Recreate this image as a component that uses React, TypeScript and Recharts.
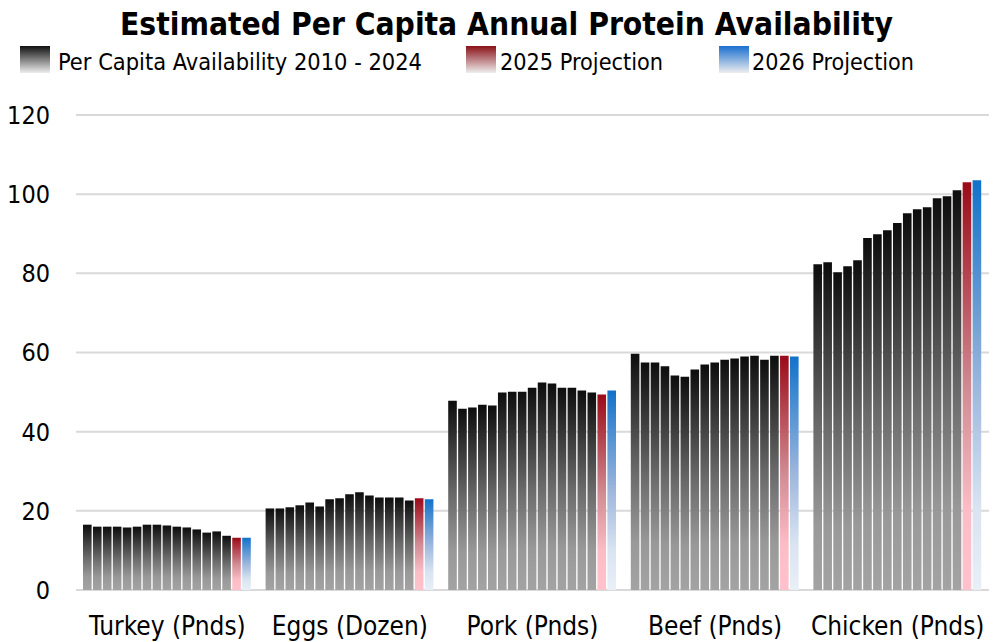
import { BarChart, Bar, XAxis, YAxis, CartesianGrid } from "recharts";

const FONT = "'DejaVu Sans Condensed', 'Liberation Sans', sans-serif";

const categories = ["Turkey (Pnds)", "Eggs (Dozen)", "Pork (Pnds)", "Beef (Pnds)", "Chicken (Pnds)"];
const years = [2010, 2011, 2012, 2013, 2014, 2015, 2016, 2017, 2018, 2019, 2020, 2021, 2022, 2023, 2024, 2025, 2026];

const turkey = [16.5, 16.0, 16.0, 16.0, 15.8, 16.0, 16.5, 16.5, 16.3, 16.0, 15.8, 15.3, 14.5, 14.8, 13.7, 13.2, 13.2];
const eggs = [20.6, 20.6, 20.9, 21.4, 22.1, 21.1, 22.9, 23.2, 24.2, 24.7, 23.9, 23.4, 23.4, 23.4, 22.6, 23.2, 22.9];
const pork = [47.8, 45.8, 46.1, 46.8, 46.6, 49.9, 50.1, 50.1, 51.1, 52.4, 52.2, 51.1, 51.1, 50.4, 49.9, 49.4, 50.4];
const beef = [59.7, 57.5, 57.5, 56.5, 54.2, 53.9, 55.7, 57.0, 57.5, 58.2, 58.5, 59.0, 59.2, 58.2, 59.2, 59.2, 59.0];
const chicken = [82.3, 82.8, 80.3, 81.8, 83.3, 88.9, 89.9, 90.9, 92.7, 95.2, 96.2, 96.7, 99.0, 99.5, 101.0, 103.0, 103.5];

const yTicks = [0, 20, 40, 60, 80, 100, 120];

const seriesByCategory = [turkey, eggs, pork, beef, chicken];

const data = categories.map((name, c) => {
  const row: Record<string, string | number> = { name };
  years.forEach((y, i) => {
    row[`y${y}`] = seriesByCategory[c][i];
  });
  return row;
});

// 2010-2024 grey, 2025 red, 2026 blue
const fillFor = (i: number) =>
  i < 15 ? "url(#gGray)" : i === 15 ? "url(#gRed)" : "url(#gBlue)";

const legendItems = [
  { label: "Per Capita Availability 2010 - 2024", grad: "lGray", sx: 20, tx: 58, tw: 364 },
  { label: "2025 Projection", grad: "lRed", sx: 466, tx: 500, tw: 163 },
  { label: "2026 Projection", grad: "lBlue", sx: 719, tx: 752, tw: 162 },
];

export default function App() {
  return (
    <div style={{ position: "absolute", left: 0, top: 0, width: 998, height: 642, background: "#fff" }}>
      <BarChart
        width={998}
        height={642}
        data={data}
        margin={{ top: 115, right: 9, bottom: 22, left: 0 }}
        barCategoryGap="4%"
        barGap={1.35}
      >
        <defs>
          <linearGradient id="gGray" x1="0" y1="0" x2="0" y2="1">
            <stop offset="0%" stopColor="#0d0d0d" />
            <stop offset="50%" stopColor="#6a6a6a" />
            <stop offset="80%" stopColor="#999999" />
            <stop offset="100%" stopColor="#a3a3a3" />
          </linearGradient>
          <linearGradient id="gRed" x1="0" y1="0" x2="0" y2="1">
            <stop offset="0%" stopColor="#9b0a18" />
            <stop offset="50%" stopColor="#d08a92" />
            <stop offset="80%" stopColor="#fbbcc5" />
            <stop offset="100%" stopColor="#ffc2cc" />
          </linearGradient>
          <linearGradient id="gBlue" x1="0" y1="0" x2="0" y2="1">
            <stop offset="0%" stopColor="#1172c9" />
            <stop offset="50%" stopColor="#9db6dc" />
            <stop offset="80%" stopColor="#d9e4f1" />
            <stop offset="100%" stopColor="#e8eff7" />
          </linearGradient>
        </defs>
        <CartesianGrid vertical={false} stroke="#d9d9d9" strokeWidth={2} />
        <XAxis
          dataKey="name"
          axisLine={false}
          tickLine={false}
          tickMargin={21}
          interval={0}
          tick={{ fill: "#000", fontSize: 26, fontFamily: FONT }}
        />
        <YAxis
          domain={[0, 120]}
          ticks={yTicks}
          width={76}
          axisLine={false}
          tickLine={false}
          tickMargin={20}
          tick={{ fill: "#000", fontSize: 25, fontFamily: FONT }}
        />
        {years.map((y, i) => (
          <Bar key={y} dataKey={`y${y}`} barSize={8.6} fill={fillFor(i)} isAnimationActive={false} />
        ))}
      </BarChart>
      <svg
        width={998}
        height={90}
        style={{ position: "absolute", left: 0, top: 0, pointerEvents: "none" }}
      >
        <defs>
          <linearGradient id="lGray" x1="0" y1="0" x2="0" y2="1">
            <stop offset="0%" stopColor="#111" />
            <stop offset="100%" stopColor="#eeeeee" />
          </linearGradient>
          <linearGradient id="lRed" x1="0" y1="0" x2="0" y2="1">
            <stop offset="0%" stopColor="#8a1218" />
            <stop offset="100%" stopColor="#eeeeee" />
          </linearGradient>
          <linearGradient id="lBlue" x1="0" y1="0" x2="0" y2="1">
            <stop offset="0%" stopColor="#1a6fd0" />
            <stop offset="100%" stopColor="#eeeeee" />
          </linearGradient>
        </defs>
        <text
          x={120}
          y={35}
          textLength={773}
          lengthAdjust="spacingAndGlyphs"
          fontFamily={FONT}
          fontWeight="bold"
          fontSize={32}
          fill="#000"
        >
          Estimated Per Capita Annual Protein Availability
        </text>
        {legendItems.map((it) => (
          <g key={it.label}>
            <rect x={it.sx} y={46} width={30} height={27} fill={`url(#${it.grad})`} />
            <text
              x={it.tx}
              y={70}
              textLength={it.tw}
              lengthAdjust="spacingAndGlyphs"
              fontFamily={FONT}
              fontSize={23}
              fill="#000"
            >
              {it.label}
            </text>
          </g>
        ))}
      </svg>
    </div>
  );
}
